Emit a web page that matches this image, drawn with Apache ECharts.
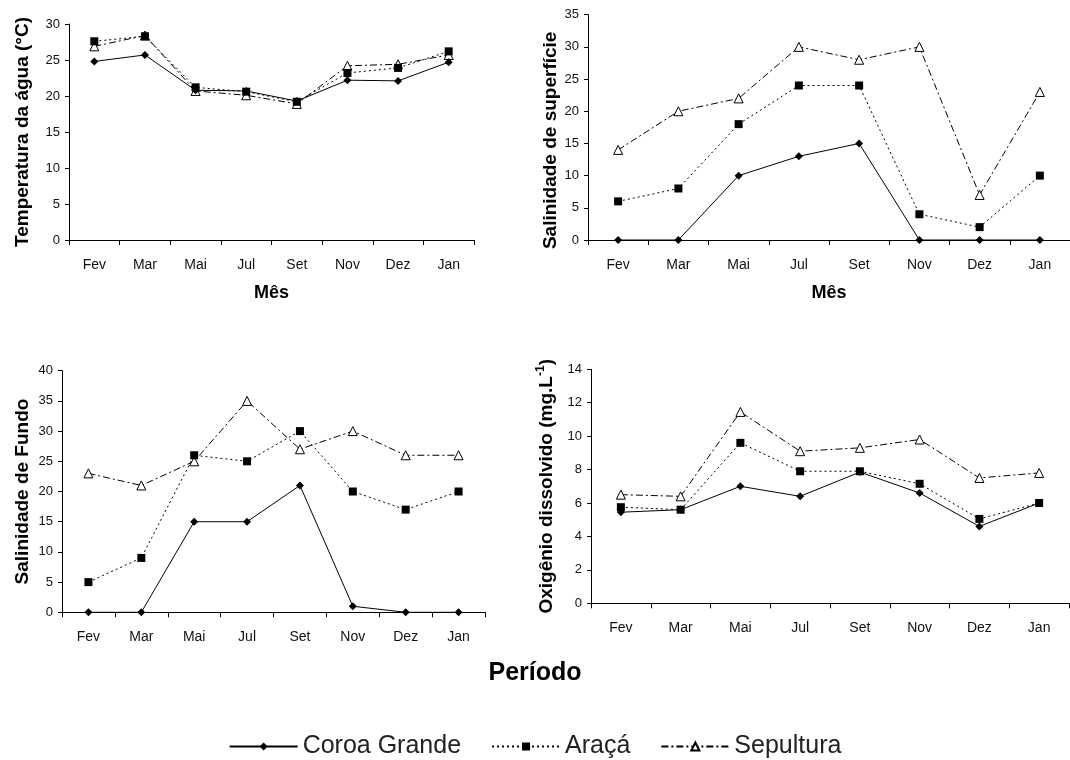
<!DOCTYPE html>
<html>
<head>
<meta charset="utf-8">
<title>Parâmetros ambientais</title>
<script src="https://cdn.jsdelivr.net/npm/echarts@6/dist/echarts.min.js"></script>
<style>
  html, body { margin: 0; padding: 0; background: #fff; }
  #chart { width: 1070px; height: 760px; }
</style>
</head>
<body>
<div id="chart"></div>
<script>
// Months sampled
const months = ['Fev', 'Mar', 'Mai', 'Jul', 'Set', 'Nov', 'Dez', 'Jan'];
const stations = ['Coroa Grande', 'Araçá', 'Sepultura'];

// Temperatura da água (°C)
const tempCoroa     = [24.8, 25.7, 20.8, 20.7, 19.3, 22.2, 22.1, 24.7];
const tempAraca     = [27.6, 28.3, 21.2, 20.6, 19.2, 23.2, 23.9, 26.2];
const tempSepultura = [26.9, 28.4, 20.7, 20.1, 18.9, 24.2, 24.4, 25.7];

// Salinidade de superfície
const salSupCoroa     = [0, 0, 10, 13, 15, 0, 0, 0];
const salSupAraca     = [6, 8, 18, 24, 24, 4, 2, 10];
const salSupSepultura = [14, 20, 22, 30, 28, 30, 7, 23];

// Salinidade de fundo
const salFunCoroa     = [0, 0, 15, 15, 21, 1, 0, 0];
const salFunAraca     = [5, 9, 26, 25, 30, 20, 17, 20];
const salFunSepultura = [23, 21, 25, 35, 27, 30, 26, 26];

// Oxigênio dissolvido (mg.L-1)
const oxiCoroa     = [5.45, 5.6, 7.0, 6.4, 7.85, 6.6, 4.6, 6.0];
const oxiAraca     = [5.75, 5.6, 9.6, 7.9, 7.9, 7.15, 5.05, 6.0];
const oxiSepultura = [6.5, 6.4, 11.45, 9.1, 9.3, 9.8, 7.5, 7.8];

const FONT = '"Liberation Sans", Arial, sans-serif';
const INK = '#000';

// Per-station line and marker look
const styles = [
  { lineStyle: { color: INK, width: 1, type: 'solid' },
    symbol: 'diamond', symbolSize: 8,
    itemStyle: { color: INK, borderColor: INK, borderWidth: 0 } },
  { lineStyle: { color: INK, width: 1, type: [2, 3] },
    symbol: 'rect', symbolSize: 8,
    itemStyle: { color: INK, borderColor: INK, borderWidth: 0 } },
  { lineStyle: { color: INK, width: 1, type: [7, 3, 2, 3] },
    symbol: 'triangle', symbolSize: 9,
    itemStyle: { color: '#fff', borderColor: INK, borderWidth: 1 } }
];

function makeSeries(idx, values) {
  return values.map((data, s) => Object.assign({
    type: 'line',
    name: stations[s],
    xAxisIndex: idx,
    yAxisIndex: idx,
    data: data,
    showAllSymbol: true,
    animation: false,
    emphasis: { disabled: true },
    z: 3 - s
  }, JSON.parse(JSON.stringify(styles[s]))));
}

function xAxis(idx, name) {
  return {
    type: 'category',
    gridIndex: idx,
    data: months,
    boundaryGap: true,
    axisLine: { lineStyle: { color: INK, width: 1 } },
    axisTick: { show: true, length: 5, inside: false, lineStyle: { color: INK } },
    axisLabel: { color: '#111', fontSize: 14, fontFamily: FONT, margin: 18 },
    splitLine: { show: false },
    name: name || '',
    nameLocation: 'middle',
    nameGap: 44,
    nameTextStyle: { color: INK, fontSize: 18, fontWeight: 'bold', fontFamily: FONT }
  };
}

function yAxis(idx, max, interval, name, gap, extra) {
  return {
    type: 'value',
    gridIndex: idx,
    min: 0, max: max, interval: interval,
    axisLine: { show: true, lineStyle: { color: INK, width: 1 } },
    axisTick: { show: true, length: 4, inside: false, lineStyle: { color: INK } },
    axisLabel: { color: '#111', fontSize: 13, fontFamily: FONT, margin: 9 },
    splitLine: { show: false },
    name: name,
    nameLocation: 'middle',
    nameRotate: 90,
    nameGap: gap,
    nameTextStyle: Object.assign({ color: INK, fontSize: 19, fontWeight: 'bold', fontFamily: FONT }, extra || {})
  };
}

const chart = echarts.init(document.getElementById('chart'), null, { renderer: 'canvas' });

chart.setOption({
  backgroundColor: '#fff',
  animation: false,
  title: {
    text: 'Período',
    left: 'center',
    top: 656,
    textStyle: { color: INK, fontSize: 25, fontWeight: 'bold', fontFamily: FONT }
  },
  legend: {
    data: stations,
    left: 'center',
    top: 729,
    itemWidth: 68,
    itemHeight: 10,
    itemGap: 30,
    textStyle: { color: '#222', fontSize: 25, fontFamily: FONT },
    selectedMode: false
  },
  grid: [
    { left: 69,  top: 24,    width: 405, height: 216 },
    { left: 588, top: 14.7,  width: 487, height: 225.3 },
    { left: 62,  top: 370.7, width: 423, height: 241.6 },
    { left: 591, top: 369.3, width: 478, height: 234 }
  ],
  xAxis: [
    xAxis(0, 'Mês'),
    xAxis(1, 'Mês'),
    xAxis(2),
    xAxis(3)
  ],
  yAxis: [
    yAxis(0, 30, 5, 'Temperatura da água (°C)', 37),
    yAxis(1, 35, 5, 'Salinidade de superfície', 26, { padding: [0, 26, 0, 0] }),
    yAxis(2, 40, 5, 'Salinidade de Fundo', 30),
    yAxis(3, 14, 2, '{b|Oxigênio dissolvido (mg.L}{s|-1}{b|)}', 32, {
      rich: {
        b: { color: INK, fontSize: 19, fontWeight: 'bold', fontFamily: FONT, lineHeight: 24 },
        s: { color: INK, fontSize: 12, fontWeight: 'bold', fontFamily: FONT, verticalAlign: 'top', lineHeight: 24, padding: [0, 0, 8, 0] }
      }
    })
  ],
  series: [].concat(
    makeSeries(0, [tempCoroa, tempAraca, tempSepultura]),
    makeSeries(1, [salSupCoroa, salSupAraca, salSupSepultura]),
    makeSeries(2, [salFunCoroa, salFunAraca, salFunSepultura]),
    makeSeries(3, [oxiCoroa, oxiAraca, oxiSepultura])
  )
});
</script>
</body>
</html>
